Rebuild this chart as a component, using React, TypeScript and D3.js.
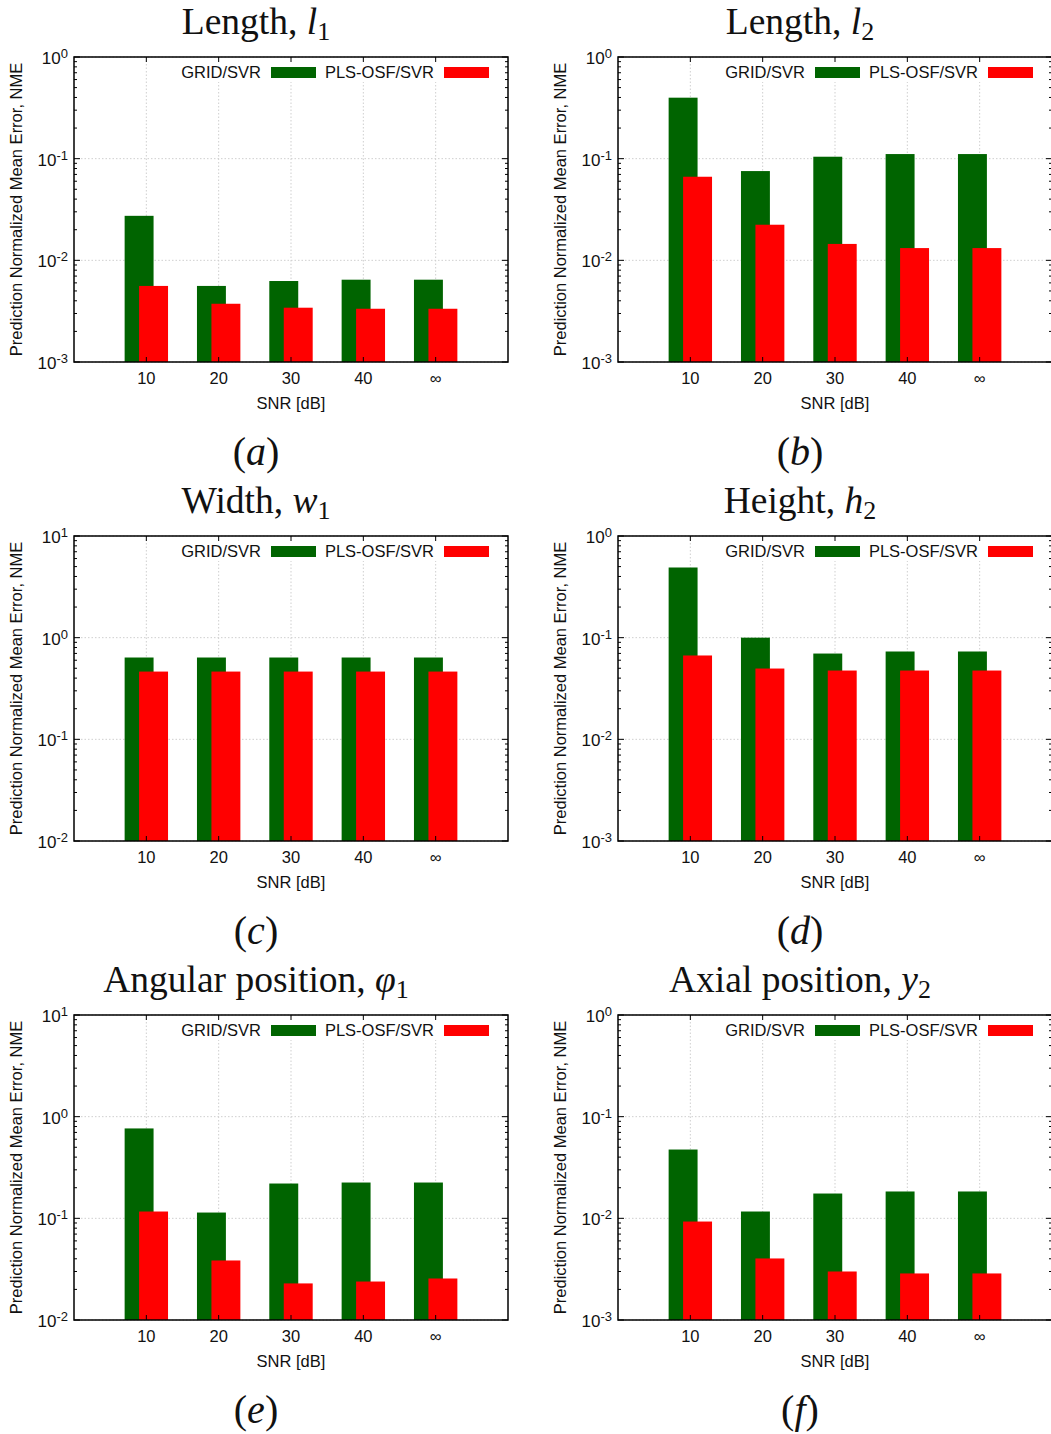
import React from 'react';
import * as d3 from 'd3';

const categories = ['10', '20', '30', '40', '\u221E'];
const seriesNames = ['GRID/SVR', 'PLS-OSF/SVR'];
const seriesColors = ['#006400', '#ff0000'];

const l1Grid = [0.0274, 0.0056, 0.00626, 0.00645, 0.00645];
const l1Pls = [0.0056, 0.00374, 0.00342, 0.00334, 0.00334];
const l2Grid = [0.398, 0.0755, 0.1045, 0.111, 0.111];
const l2Pls = [0.0664, 0.0224, 0.0145, 0.0132, 0.0132];
const w1Grid = [0.638, 0.638, 0.638, 0.638, 0.638];
const w1Pls = [0.464, 0.464, 0.464, 0.464, 0.464];
const h2Grid = [0.49, 0.1, 0.0698, 0.0731, 0.0731];
const h2Pls = [0.0668, 0.0497, 0.0475, 0.0475, 0.0475];
const phiGrid = [0.766, 0.114, 0.22, 0.225, 0.225];
const phiPls = [0.1167, 0.0385, 0.0229, 0.0239, 0.0256];
const y2Grid = [0.0475, 0.01167, 0.01754, 0.01837, 0.01837];
const y2Pls = [0.0093, 0.00403, 0.003, 0.00287, 0.00287];

const panels = [
  { title: 'Length, ', sym: 'l', sub: '1', cap: 'a', domain: [1e-3, 1], grid: l1Grid, pls: l1Pls },
  { title: 'Length, ', sym: 'l', sub: '2', cap: 'b', domain: [1e-3, 1], grid: l2Grid, pls: l2Pls },
  { title: 'Width, ', sym: 'w', sub: '1', cap: 'c', domain: [1e-2, 10], grid: w1Grid, pls: w1Pls },
  { title: 'Height, ', sym: 'h', sub: '2', cap: 'd', domain: [1e-3, 1], grid: h2Grid, pls: h2Pls },
  { title: 'Angular position, ', sym: '\u03C6', sub: '1', cap: 'e', domain: [1e-2, 10], grid: phiGrid, pls: phiPls },
  { title: 'Axial position, ', sym: 'y', sub: '2', cap: 'f', domain: [1e-3, 1], grid: y2Grid, pls: y2Pls },
];

const SANS = '"Liberation Sans", Arial, Helvetica, sans-serif';
const SERIF = '"Liberation Serif", "Times New Roman", Times, serif';

const PL = 74, PR = 508, PT = 57, PB = 362;

function Panel({ p, ox, oy }: any) {
  const x = d3.scaleLinear().domain([0, 6]).range([PL, PR]);
  const y = d3.scaleLog().domain(p.domain).range([PB, PT]);
  const lo = Math.round(Math.log10(p.domain[0]));
  const hi = Math.round(Math.log10(p.domain[1]));
  const majors: number[] = [];
  const minors: number[] = [];
  for (let e = lo; e <= hi; e++) {
    majors.push(e);
    if (e < hi) for (let m = 2; m <= 9; m++) minors.push(m * Math.pow(10, e));
  }
  const barW = x(0.4) - x(0);
  const cx = 256;
  return (
    <g transform={`translate(${ox},${oy})`}>
      <text x={cx} y={34} textAnchor="middle" fontFamily={SERIF} fontSize={37.5} fill="#111">
        {p.title}
        <tspan fontStyle="italic">{p.sym}</tspan>
        <tspan fontSize={26} dy={6}>{p.sub}</tspan>
      </text>
      {majors.map((e) => (
        <line key={'gy' + e} x1={PL} x2={PR} y1={y(Math.pow(10, e))} y2={y(Math.pow(10, e))}
          stroke="#cfcfcf" strokeWidth={1} strokeDasharray="1.5,2" />
      ))}
      {categories.map((c, i) => (
        <line key={'gx' + i} x1={x(i + 1)} x2={x(i + 1)} y1={PT} y2={PB}
          stroke="#cfcfcf" strokeWidth={1} strokeDasharray="1.5,2" />
      ))}
      <rect x={176} y={60} width={326} height={22} fill="#fff" />
      {p.grid.map((v: number, i: number) => (
        <rect key={'g' + i} x={x(i + 0.7)} width={barW} y={y(v)} height={y(p.domain[0]) - y(v)} fill={seriesColors[0]} />
      ))}
      {p.pls.map((v: number, i: number) => (
        <rect key={'r' + i} x={x(i + 0.9)} width={barW} y={y(v)} height={y(p.domain[0]) - y(v)} fill={seriesColors[1]} />
      ))}
      <text x={261} y={78} textAnchor="end" fontFamily={SANS} fontSize={16.5} fill="#111">{seriesNames[0]}</text>
      <rect x={271} y={67} width={45} height={11} fill={seriesColors[0]} />
      <text x={434} y={78} textAnchor="end" fontFamily={SANS} fontSize={16.5} fill="#111">{seriesNames[1]}</text>
      <rect x={444} y={67} width={45} height={11} fill={seriesColors[1]} />
      {majors.map((e) => {
        const yy = y(Math.pow(10, e));
        return (
          <g key={'mt' + e}>
            <line x1={PL} x2={PL + 6} y1={yy} y2={yy} stroke="#000" strokeWidth={1} />
            <line x1={PR} x2={PR - 6} y1={yy} y2={yy} stroke="#000" strokeWidth={1} />
            <text x={68} y={yy + 7} textAnchor="end" fontFamily={SANS} fontSize={17} fill="#111">
              10<tspan fontSize={13} dy={-6}>{e}</tspan>
            </text>
          </g>
        );
      })}
      {minors.map((v, i) => (
        <g key={'mn' + i}>
          <line x1={PL} x2={PL + 3} y1={y(v)} y2={y(v)} stroke="#000" strokeWidth={1} />
          <line x1={PR} x2={PR - 3} y1={y(v)} y2={y(v)} stroke="#000" strokeWidth={1} />
        </g>
      ))}
      {categories.map((c, i) => (
        <g key={'xt' + i}>
          <line x1={x(i + 1)} x2={x(i + 1)} y1={PT} y2={PT + 5} stroke="#000" strokeWidth={1} />
          <line x1={x(i + 1)} x2={x(i + 1)} y1={PB} y2={PB - 5} stroke="#000" strokeWidth={1} />
          <text x={x(i + 1)} y={384} textAnchor="middle" fontFamily={SANS} fontSize={16.5} fill="#111">{c}</text>
        </g>
      ))}
      <rect x={PL} y={PT} width={PR - PL} height={PB - PT} fill="none" stroke="#000" strokeWidth={1.5} />
      <text x={(PL + PR) / 2} y={409} textAnchor="middle" fontFamily={SANS} fontSize={16.5} fill="#111">SNR [dB]</text>
      <text transform={`translate(22,${(PT + PB) / 2}) rotate(-90)`} textAnchor="middle" fontFamily={SANS} fontSize={16.5} fill="#111">
        Prediction Normalized Mean Error, NME
      </text>
      <text x={cx} y={465} textAnchor="middle" fontFamily={SERIF} fontSize={40} fill="#111">
        (<tspan fontStyle="italic">{p.cap}</tspan>)
      </text>
    </g>
  );
}

export default function App() {
  return (
    <svg width={1051} height={1434} style={{ position: 'absolute', left: 0, top: 0, background: '#fff' }}>
      <rect x={0} y={0} width={1051} height={1434} fill="#fff" />
      {panels.map((p, i) => (
        <Panel key={i} p={p} ox={(i % 2) * 544} oy={Math.floor(i / 2) * 479} />
      ))}
    </svg>
  );
}
